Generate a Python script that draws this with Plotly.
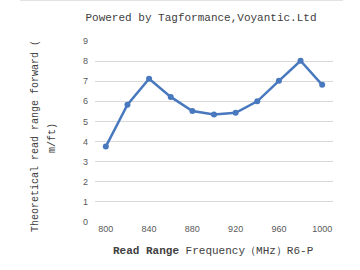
import plotly.graph_objects as go

freq = [800, 820, 840, 860, 880, 900, 920, 940, 960, 980, 1000]
read_range = [3.75, 5.83, 7.12, 6.22, 5.52, 5.35, 5.43, 6.0, 7.02, 8.02, 6.82]
x_ticks = [800, 840, 880, 920, 960, 1000]
y_ticks = [0, 1, 2, 3, 4, 5, 6, 7, 8, 9]

mono = "Courier New, Liberation Mono, monospace"
sans = "Liberation Sans Narrow, Arial Narrow, Liberation Sans, sans-serif"
blue = "#4878BE"

fig = go.Figure()
fig.add_trace(go.Scatter(
    x=freq, y=read_range, mode="lines+markers",
    line=dict(color=blue, width=2.5),
    marker=dict(color=blue, size=6),
    showlegend=False,
))

L, T, W, H = 95, 41, 238, 181

fig.update_layout(
    width=360, height=270,
    margin=dict(l=L, r=360 - L - W, t=T, b=270 - T - H),
    paper_bgcolor="white", plot_bgcolor="white",
    title=dict(text="Powered by Tagformance,Voyantic.Ltd",
               x=201 / 360, xanchor="center", y=1 - 17 / 270, yanchor="middle",
               font=dict(family=mono, size=11, color="#404040")),
    xaxis=dict(range=[790, 1010], tickvals=x_ticks, showgrid=False,
               zeroline=False, showline=False, ticks="",
               tickfont=dict(family=sans, size=9, color="#595959")),
    yaxis=dict(range=[0, 9], tickvals=y_ticks, showgrid=True,
               gridcolor="#d9d9d9", gridwidth=1, zeroline=False,
               ticks="", tickfont=dict(family=sans, size=9, color="#595959"),
               ticklabelstandoff=6),
)

def px_x(x):
    return (x - L) / W

def px_y(y):
    return 1 - (y - T) / H

fig.add_annotation(text="Theoretical read range forward (", xref="paper", yref="paper",
                   x=px_x(35), y=px_y(136), xanchor="center", yanchor="middle",
                   textangle=-90, showarrow=False,
                   font=dict(family=mono, size=10, color="#404040"))
fig.add_annotation(text="m/ft)", xref="paper", yref="paper",
                   x=px_x(52), y=px_y(138), xanchor="center", yanchor="middle",
                   textangle=-90, showarrow=False,
                   font=dict(family=mono, size=10, color="#404040"))
fig.add_annotation(text="<b>Read Range</b> Frequency（MHz）R6-P", xref="paper", yref="paper",
                   x=px_x(213), y=px_y(251), xanchor="center", yanchor="middle",
                   showarrow=False,
                   font=dict(family=mono, size=11, color="#404040"))

fig.add_shape(type="line", xref="paper", yref="paper",
              x0=px_x(20), x1=px_x(343), y0=px_y(0.5), y1=px_y(0.5),
              line=dict(color="#e3e3e3", width=1))

fig.write_html("out.html")
